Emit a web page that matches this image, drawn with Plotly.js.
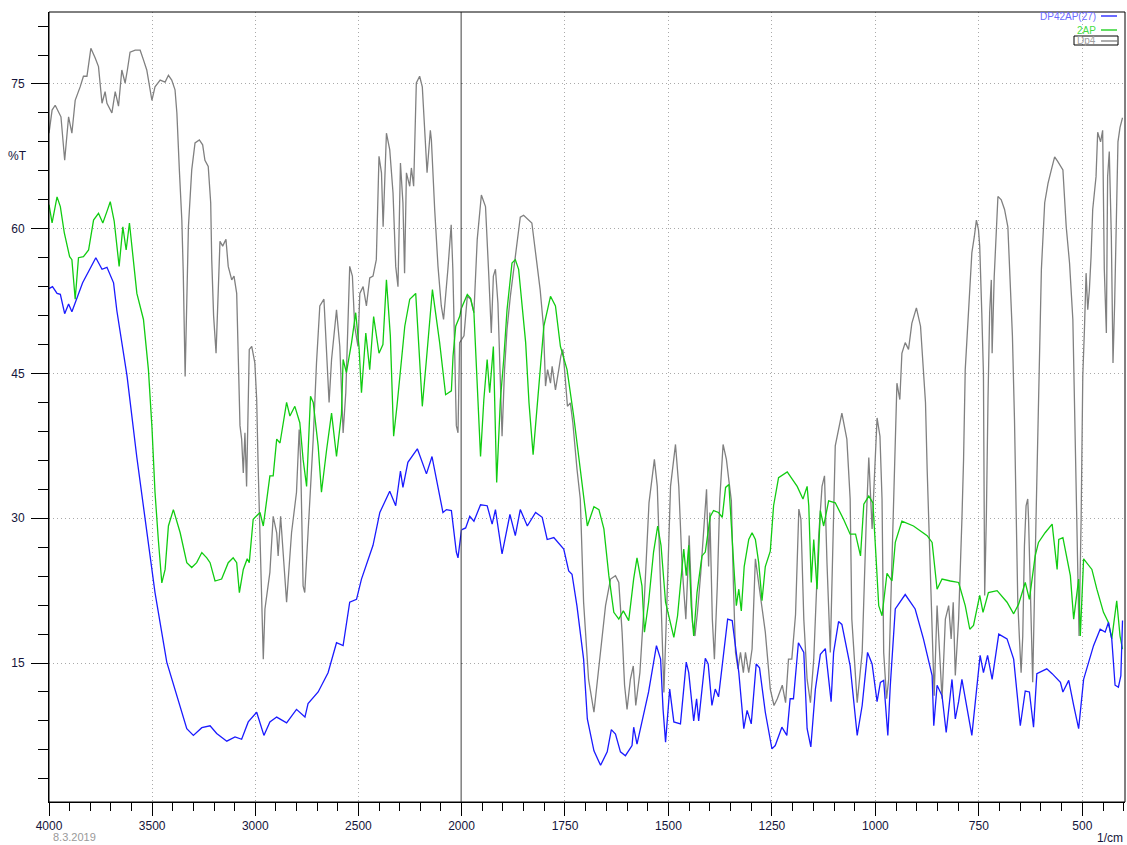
<!DOCTYPE html>
<html>
<head>
<meta charset="utf-8">
<script src="https://cdn.plot.ly/plotly-3.0.1.min.js"></script>
<style>html,body{margin:0;padding:0;background:#fff;}#chart{width:1127px;height:845px;}</style>
</head>
<body>
<div id="chart"></div>
<script>
// Wavenumbers (1/cm) and %T values
const blueName = "DP42AP(27)";
const blueWn = [4000,3983,3961,3945,3924,3905,3889,3873,3837,3773,
3743,3719,3687,3671,3622,3574,3510,3486,3429,3380,
3332,3300,3259,3219,3187,3138,3098,3066,3034,2993,
2958,2929,2896,2848,2800,2759,2744,2695,2647,2606,
2574,2542,2509,2485,2453,2429,2396,2348,2319,2296,
2284,2260,2214,2170,2143,2114,2090,2073,2049,2025,
2017,2000,1990,1980,1970,1954,1938,1926,1918,1902,
1883,1870,1858,1841,1821,1805,1793,1777,1753,1741,
1733,1721,1705,1696,1680,1664,1648,1638,1628,1616,
1604,1588,1584,1576,1560,1548,1529,1519,1513,1507,
1497,1487,1471,1457,1451,1439,1432,1427,1411,1404,
1395,1387,1379,1357,1346,1330,1318,1310,1300,1288,
1280,1266,1250,1242,1226,1214,1206,1198,1186,1173,
1165,1156,1145,1133,1121,1107,1101,1089,1081,1061,
1044,1032,1019,1008,996,988,980,970,964,952,
928,904,884,863,859,851,839,829,815,807,
799,791,767,747,739,729,718,702,682,666,
650,638,628,618,610,586,573,553,547,533,
521,509,497,485,473,457,445,437,429,421,
413,407,403];
const blueT = [53.8,54.0,53.3,53.2,51.2,52.2,51.4,52.3,54.4,57.0,
55.8,56.0,54.4,51.5,44.8,36.3,26.3,22.3,15.1,11.6,
8.2,7.5,8.3,8.5,7.7,6.9,7.35,7.1,8.9,9.9,
7.5,8.9,9.4,8.8,10.2,9.4,10.8,12.0,14.0,17.1,
16.8,21.3,21.6,23.7,25.8,27.2,30.6,32.8,31.3,34.9,
33.2,35.8,37.2,34.6,36.4,33.3,30.6,30.9,30.8,26.5,
25.9,28.8,29.0,30.2,29.7,31.4,31.3,29.4,30.9,26.3,
30.4,28.2,30.9,29.2,30.6,30.1,27.8,28.0,26.8,24.55,
24.2,20.9,15.4,9.2,5.9,4.4,5.8,8.1,7.65,5.8,
5.4,6.45,8.35,6.6,9.9,12.0,16.8,15.4,10.2,6.8,
12.3,8.9,8.7,15.1,14.0,9.0,11.3,9.0,15.5,14.9,
10.6,12.3,11.5,19.55,19.4,14.0,8.2,10.1,8.7,14.9,
14.5,9.9,6.1,6.45,8.35,7.5,11.3,11.3,17.1,16.1,
8.2,6.3,12.3,15.9,16.5,11.0,16.1,19.3,19.0,14.7,
7.5,10.6,16.1,14.9,11.0,13.0,13.2,7.5,12.7,20.6,
22.1,20.6,17.5,13.7,8.5,12.7,11.6,7.8,13.3,9.2,
11.0,13.3,7.5,15.8,14.0,15.8,13.3,18.0,17.5,15.4,
8.5,12.1,12.0,8.35,13.9,14.4,13.9,13.0,12.0,13.2,
10.6,8.2,13.3,15.1,16.8,18.5,18.2,19.2,17.5,12.7,
12.5,13.7,19.4];

const greenName = "2AP";
const greenWn = [4000,3985,3961,3945,3926,3913,3900,3889,3873,3857,
3833,3808,3784,3760,3739,3719,3703,3684,3660,3642,
3626,3610,3574,3542,3518,3501,3486,3470,3453,3437,
3421,3397,3364,3332,3308,3284,3259,3235,3219,3195,
3163,3131,3107,3090,3077,3058,3039,3029,3010,2977,
2961,2929,2913,2896,2880,2848,2832,2808,2784,2768,
2751,2732,2719,2695,2679,2654,2630,2606,2582,2574,
2558,2533,2513,2497,2485,2464,2445,2426,2400,2381,
2364,2345,2329,2313,2292,2275,2251,2222,2206,2190,
2170,2141,2106,2077,2049,2041,2028,2009,2000,1986,
1978,1970,1954,1946,1938,1932,1923,1915,1906,1898,
1890,1878,1870,1862,1845,1837,1827,1817,1801,1785,
1773,1761,1745,1729,1713,1696,1680,1668,1656,1644,
1632,1620,1609,1596,1584,1576,1564,1558,1548,1536,
1526,1518,1507,1497,1487,1478,1469,1463,1457,1451,
1445,1439,1431,1419,1411,1399,1391,1379,1370,1362,
1354,1350,1342,1336,1330,1324,1317,1306,1298,1290,
1282,1274,1266,1254,1246,1234,1213,1189,1175,1165,
1161,1155,1149,1141,1133,1125,1113,1097,1077,1061,
1048,1036,1028,1016,1006,1000,992,984,972,960,
952,936,908,875,863,851,839,819,799,783,
772,763,748,740,727,706,682,666,654,638,
628,614,606,590,573,561,557,547,529,521,
509,505,497,477,465,449,437,429,417,409,
403];
const greenT = [62.5,60.6,63.3,62.3,59.6,58.2,57.1,56.8,52.7,57.0,
57.1,57.8,60.9,61.6,60.6,61.8,62.8,60.8,56.1,60.2,
57.8,60.6,53.3,50.6,45.4,39.5,32.7,27.8,23.3,24.7,
29.2,30.9,28.5,25.4,24.9,25.4,26.45,25.9,25.4,23.5,
23.7,25.4,25.9,25.4,22.3,24.7,25.8,25.4,29.9,30.6,
29.2,34.4,34.4,38.2,37.8,42.0,40.6,41.6,39.9,36.1,
33.3,42.65,42.0,37.5,32.7,37.1,40.9,36.4,40.8,46.45,
45.1,48.2,51.3,47.8,43.0,49.2,45.4,50.9,47.1,48.0,
54.7,48.9,38.5,41.6,46.45,49.9,52.7,53.3,47.5,41.6,
46.45,53.7,48.2,42.8,43.2,46.8,49.9,50.9,51.8,53.2,
52.8,51.3,36.4,42.3,46.45,43.0,47.8,33.7,42.3,46.45,
51.6,56.45,56.8,55.8,48.2,42.0,36.6,42.0,49.9,53.0,
52.0,47.8,45.4,40.6,35.1,29.2,31.2,30.9,28.9,24.05,
20.25,19.55,20.4,19.4,23.75,25.9,23.0,18.2,21.3,26.5,
29.2,27.2,21.3,19.55,17.65,19.9,24.3,26.8,24.05,27.2,
20.95,17.8,22.3,26.1,26.5,30.2,30.8,30.6,30.1,33.2,
33.5,30.2,25.0,20.95,22.65,20.4,25.0,27.8,28.5,27.8,
25.4,21.45,25.0,26.6,31.3,34.2,34.8,33.3,32.0,33.3,
31.3,23.35,27.8,22.65,30.8,29.2,31.8,31.6,29.9,28.35,
28.35,26.1,31.45,32.3,31.6,27.1,20.95,19.9,24.3,23.5,
27.5,29.7,29.2,28.2,27.5,22.65,23.7,23.5,23.35,20.95,
18.5,18.9,22.0,20.25,22.3,22.5,21.3,20.1,21.1,23.35,
21.6,26.1,27.5,28.5,29.4,24.7,27.8,28.0,24.05,19.55,
23.7,17.8,25.8,24.7,22.65,20.25,19.2,17.5,21.45,17.8,
16.45];

const grayName = "Dp4";
const grayWn = [4000,3985,3970,3954,3942,3924,3905,3889,3873,3849,
3833,3816,3797,3776,3760,3743,3728,3719,3695,3679,
3663,3647,3631,3620,3607,3582,3558,3542,3526,3501,
3486,3461,3437,3421,3405,3389,3380,3368,3356,3349,
3340,3324,3308,3292,3271,3255,3244,3228,3216,3211,
3202,3190,3181,3171,3158,3142,3131,3114,3103,3090,
3082,3074,3066,3058,3050,3042,3029,3017,3002,2993,
2986,2977,2969,2961,2953,2945,2929,2913,2896,2889,
2877,2865,2848,2824,2800,2787,2780,2768,2760,2744,
2727,2719,2703,2687,2667,2654,2642,2630,2606,2590,
2574,2561,2542,2529,2518,2502,2493,2477,2461,2445,
2429,2413,2400,2388,2380,2364,2348,2332,2319,2308,
2296,2284,2276,2267,2251,2243,2232,2219,2203,2190,
2178,2167,2151,2146,2130,2114,2098,2087,2066,2050,
2042,2025,2017,2009,2000,1994,1986,1978,1970,1962,
1952,1942,1934,1928,1923,1918,1912,1906,1902,1896,
1890,1882,1870,1858,1850,1838,1830,1819,1810,1802,
1797,1792,1785,1781,1773,1765,1760,1755,1749,1744,
1737,1731,1721,1713,1705,1693,1680,1672,1664,1652,
1640,1628,1620,1612,1606,1600,1592,1585,1579,1569,
1559,1547,1534,1527,1519,1511,1503,1495,1483,1475,
1467,1458,1454,1450,1446,1442,1436,1430,1422,1414,
1408,1403,1400,1394,1389,1382,1376,1368,1360,1354,
1348,1343,1338,1332,1326,1319,1314,1306,1298,1290,
1283,1274,1266,1254,1245,1237,1225,1217,1210,1202,
1193,1185,1180,1173,1165,1157,1149,1137,1129,1123,
1117,1109,1097,1081,1069,1061,1057,1044,1032,1022,
1016,1008,996,989,984,980,973,968,960,952,
948,941,936,928,920,912,901,891,885,879,
875,867,861,858,851,845,839,831,823,817,
812,807,799,791,787,783,775,767,761,756,
751,748,743,739,736,732,728,724,720,718,
713,708,704,696,688,680,676,669,664,660,
656,652,648,644,640,636,632,630,624,620,
612,608,604,599,591,583,575,567,560,547,
539,531,523,519,515,511,508,503,499,495,
491,487,483,479,475,467,463,456,451,447,
442,439,435,430,426,422,418,414,409,403];
const grayT = [69.9,72.3,72.8,72.1,71.6,67.1,71.6,69.9,73.3,74.7,
75.8,75.8,78.7,77.7,76.8,73.0,74.2,73.0,72.0,74.2,
72.7,76.45,75.1,76.45,78.3,78.5,78.5,77.5,76.45,73.3,
74.7,75.4,75.2,75.9,75.4,74.4,72.0,66.1,60.9,55.4,
44.7,60.2,66.1,68.9,69.2,68.7,67.1,66.45,62.7,56.8,
51.0,47.1,52.0,58.7,58.2,58.9,56.1,54.7,55.1,53.3,
46.45,39.6,38.2,34.7,38.85,33.3,47.5,47.8,46.1,42.3,
35.4,28.5,21.6,15.4,20.6,22.0,24.4,30.2,28.5,26.1,
30.2,26.5,21.3,28.5,32.7,39.2,36.1,23.0,22.3,28.5,
34.7,38.2,46.1,52.0,52.7,47.8,42.0,46.45,51.6,47.8,
38.85,43.0,56.1,55.1,49.9,47.8,53.3,54.0,52.0,54.9,
55.1,56.8,67.5,65.8,60.2,69.9,68.2,63.7,56.1,54.0,
66.8,62.7,55.4,65.8,64.4,66.3,64.4,75.1,75.8,74.7,
69.2,65.8,70.2,69.2,62.0,56.1,52.0,50.6,55.8,60.4,
55.8,39.6,38.85,48.2,48.5,48.9,53.0,52.7,51.3,58.9,
63.5,62.3,55.1,49.2,55.1,55.8,52.3,42.65,38.5,45.4,
49.6,53.0,57.1,61.2,61.4,60.9,60.6,56.8,53.7,49.9,
43.7,45.4,44.0,45.75,43.3,45.4,46.8,47.5,44.7,41.6,
41.95,39.9,35.1,32.0,21.3,13.3,9.9,13.0,16.1,20.95,
23.7,24.05,23.35,18.2,12.7,10.2,13.3,14.7,10.6,14.0,
20.95,31.6,36.1,33.3,23.0,11.96,22.3,33.3,37.65,33.3,
25.0,19.55,23.7,28.2,23.7,19.2,17.8,20.25,24.3,28.9,
33.0,25.0,30.6,19.55,15.4,23.0,32.0,37.65,36.1,33.9,
31.8,23.0,16.1,14.4,16.1,14.0,16.1,14.0,16.45,25.8,
23.7,20.95,18.2,12.3,10.6,11.3,12.7,10.9,15.4,15.4,
20.0,30.95,29.9,19.55,13.3,10.9,15.4,28.2,33.3,34.4,
25.4,16.1,37.5,40.9,38.2,32.0,19.55,10.9,16.1,29.9,
36.3,28.9,40.4,38.5,32.0,16.1,11.3,13.3,26.5,38.5,
44.0,42.3,47.1,48.2,47.5,50.2,51.8,49.9,46.1,42.0,
35.1,23.0,14.4,11.6,20.95,15.4,11.3,19.55,20.95,17.5,
21.3,13.7,19.55,29.9,36.1,45.4,52.0,57.5,59.2,60.9,
59.9,58.2,51.3,45.0,22.0,30.0,42.3,51.3,54.7,47.1,
55.0,59.2,63.35,63.0,62.0,60.2,55.8,48.9,40.2,28.2,
21.3,17.5,14.0,17.8,27.1,31.3,32.0,29.9,19.55,13.0,
29.9,38.5,48.9,55.8,62.7,64.7,66.1,67.45,67.0,66.1,
60.2,56.45,50.6,42.0,34.0,26.5,17.8,29.9,44.7,49.55,
55.4,51.6,53.7,57.1,62.0,65.4,70.0,69.0,70.2,55.8,
49.2,65.4,68.0,59.2,46.1,52.3,61.6,69.0,70.5,71.5];

const leftTicks = [4000,3500,3000,2500,2000];
const rightTicks = [1750,1500,1250,1000,750,500];
const yTicks = [15,30,45,60,75];
const splitWn = 2000;

const series = [
  {name: grayName, wn: grayWn, t: grayT, color: '#808080'},
  {name: greenName, wn: greenWn, t: greenT, color: '#11cc11'},
  {name: blueName, wn: blueWn, t: blueT, color: '#1a1aff'}
];

const traces = [];
series.forEach(s => {
  const lx = [], ly = [], rx = [], ry = [];
  s.wn.forEach((w, i) => {
    if (w >= splitWn) { lx.push(w); ly.push(s.t[i]); }
    if (w <= splitWn) { rx.push(w); ry.push(s.t[i]); }
  });
  traces.push({x: lx, y: ly, xaxis: 'x', yaxis: 'y', type: 'scatter', mode: 'lines',
    name: s.name, showlegend: false, line: {color: s.color, width: 1.3}, hoverinfo: 'skip'});
  traces.push({x: rx, y: ry, xaxis: 'x2', yaxis: 'y', type: 'scatter', mode: 'lines',
    name: s.name, showlegend: false, line: {color: s.color, width: 1.3}, hoverinfo: 'skip'});
});

const W = 1127, H = 845, mL = 49, mR = 2, mT = 12, mB = 43;
const pw = W - mL - mR, ph = H - mT - mB;
const px = v => (v - mL) / pw;
const py = v => (H - mB - v) / ph;
const split = px(461.5);

const tickFont = {family: 'Liberation Sans, Arial, sans-serif', size: 12, color: '#14143a'};
const common = {
  ticks: 'outside', tickcolor: '#000', showline: true, linecolor: '#000', linewidth: 1,
  showgrid: true, gridcolor: '#aaaaaa', griddash: '1px,3px', gridwidth: 1, zeroline: false,
  tickfont: tickFont
};

const legendItems = [
  {text: blueName, color: '#6a6aff', color2: '#1a1aff', y: 16},
  {text: greenName, color: '#44dd44', color2: '#11cc11', y: 30},
  {text: grayName, color: '#a0a0a0', color2: '#808080', y: 41}
];

const annotations = [
  {text: '%T', xref: 'paper', yref: 'paper', x: px(17), y: py(156), xanchor: 'center', yanchor: 'middle',
   showarrow: false, font: {family: 'Liberation Sans, Arial', size: 12, color: '#14143a'}},
  {text: '1/cm', xref: 'paper', yref: 'paper', x: px(1110), y: py(838), xanchor: 'center', yanchor: 'middle',
   showarrow: false, font: {family: 'Liberation Sans, Arial', size: 12, color: '#14143a'}},
  {text: '8.3.2019', xref: 'paper', yref: 'paper', x: px(74), y: py(837), xanchor: 'center', yanchor: 'middle',
   showarrow: false, font: {family: 'Liberation Sans, Arial', size: 11, color: '#999'}}
];
const shapes = [
  {type: 'rect', xref: 'paper', yref: 'paper', x0: 0, x1: 1, y0: 0, y1: 1,
   line: {color: '#000', width: 1}, layer: 'above'},
  {type: 'line', xref: 'x', yref: 'paper', x0: splitWn, x1: splitWn, y0: 0, y1: 1,
   line: {color: '#111', width: 1.6}, layer: 'above'}
];
legendItems.forEach(it => {
  annotations.push({text: it.text, xref: 'paper', yref: 'paper', x: px(1098), y: py(it.y),
    xanchor: 'right', yanchor: 'middle', showarrow: false,
    font: {family: 'Liberation Sans, Arial', size: 10, color: it.color}});
  shapes.push({type: 'line', xref: 'paper', yref: 'paper', x0: px(1101), x1: px(1117),
    y0: py(it.y), y1: py(it.y), line: {color: it.color2, width: 1.3}});
});
shapes.push({type: 'rect', xref: 'paper', yref: 'paper', x0: px(1074), x1: px(1118),
  y0: py(45), y1: py(36), line: {color: '#000', width: 1}});

const layout = {
  width: W, height: H,
  margin: {l: mL, r: mR, t: mT, b: mB, pad: 0},
  paper_bgcolor: '#fff', plot_bgcolor: '#fff',
  showlegend: false,
  font: {family: 'Liberation Sans, Arial, sans-serif'},
  xaxis: Object.assign({}, common, {
    domain: [0, split], range: [4000, 2000], anchor: 'y',
    tickmode: 'array', tickvals: leftTicks, ticktext: leftTicks.map(String), ticklen: 13,
    minor: {ticks: 'outside', ticklen: 8, dtick: 100, tick0: 0, tickcolor: '#000', showgrid: false}
  }),
  xaxis2: Object.assign({}, common, {
    domain: [split, 1], range: [2000, 397], anchor: 'y',
    tickmode: 'array', tickvals: rightTicks, ticktext: rightTicks.map(String), ticklen: 13,
    minor: {ticks: 'outside', ticklen: 8, dtick: 50, tick0: 0, tickcolor: '#000', showgrid: false}
  }),
  yaxis: Object.assign({}, common, {
    range: [0.6, 82.46], anchor: 'x',
    tickmode: 'array', tickvals: yTicks, ticktext: yTicks.map(String), ticklen: 17,
    ticklabelstandoff: 4,
    minor: {ticks: 'outside', ticklen: 10, dtick: 3, tick0: 0, tickcolor: '#000', showgrid: false}
  }),
  annotations: annotations,
  shapes: shapes
};

Plotly.newPlot('chart', traces, layout, {displayModeBar: false, staticPlot: true});
</script>
</body>
</html>
